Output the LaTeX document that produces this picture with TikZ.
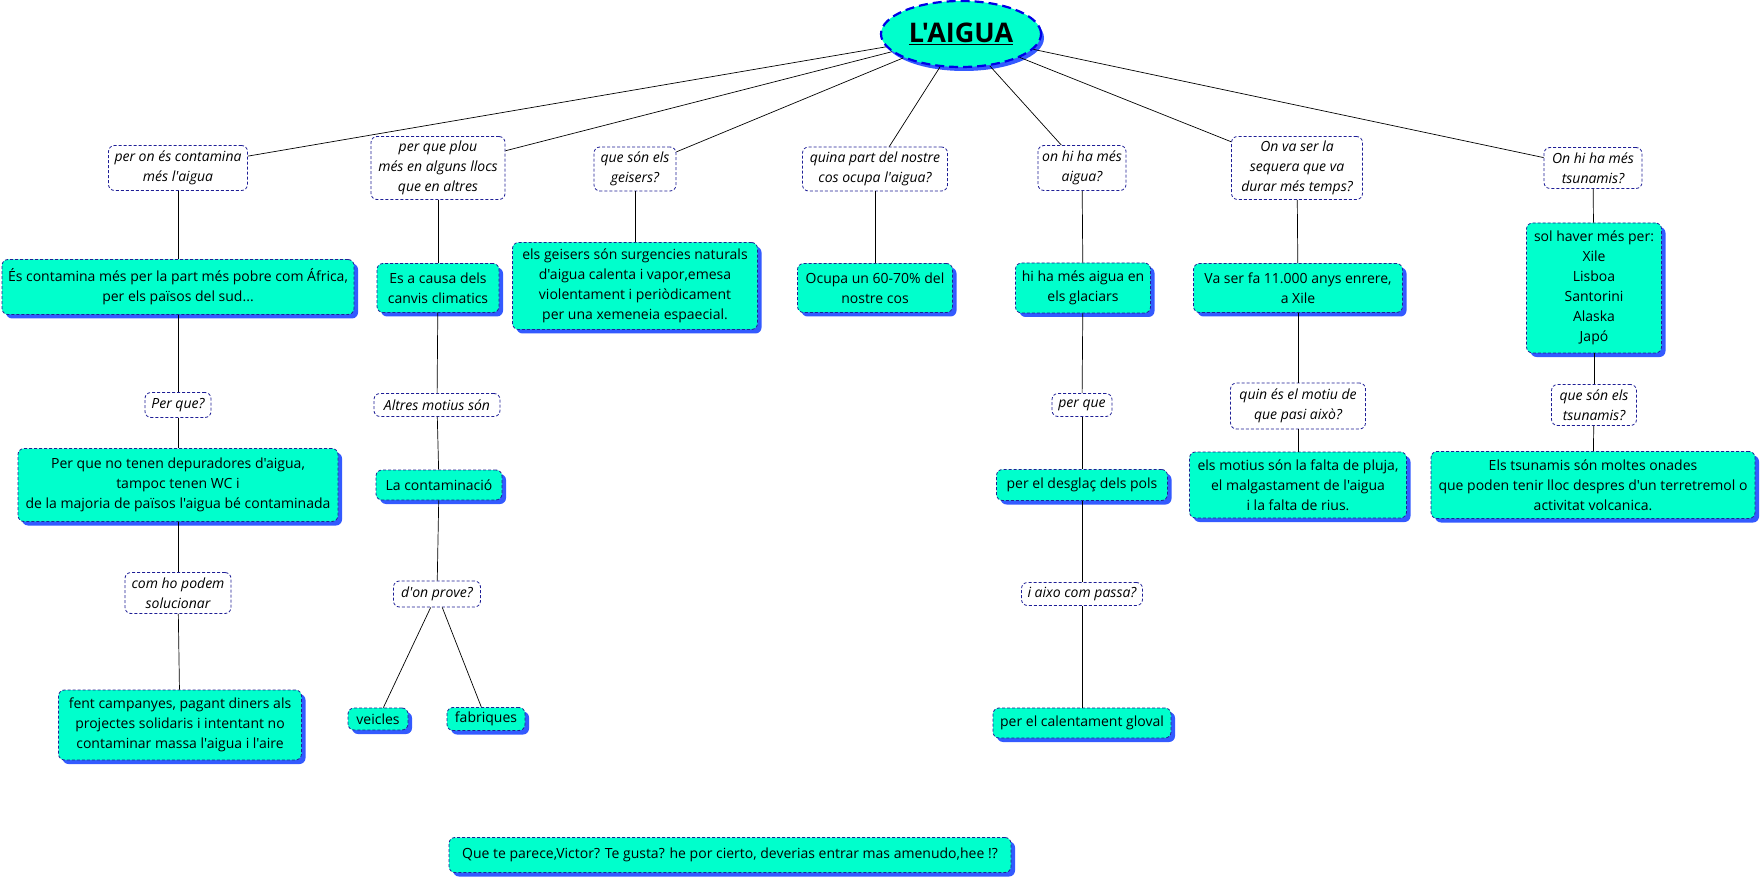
\documentclass[tikz,border=0pt]{standalone}
\usepackage{fontspec}
\setmainfont{Open Sans}[Ligatures=TeXOff]
\usetikzlibrary{shapes.geometric,shadows}
\definecolor{fillc}{RGB}{0,255,204}
\definecolor{bordc}{RGB}{30,30,150}
\definecolor{shadc}{RGB}{51,90,255}
\definecolor{titleb}{RGB}{0,0,230}
\tikzset{
  base/.style={rounded corners=6pt, draw=bordc, line width=0.8pt, dash pattern=on 3pt off 2pt, align=center, inner sep=1pt, font=\fontsize{14}{20}\selectfont},
  qbox/.style={base, fill=white, font=\fontsize{14}{20}\selectfont\itshape},
  abox/.style={base, fill=fillc, drop shadow={shadow xshift=4pt, shadow yshift=-4pt, fill=shadc, opacity=1}},
  link/.style={draw=black, line width=0.7pt},
  sz/.style 2 args={minimum width=#1pt, minimum height=#2pt}
}
\begin{document}
\begin{tikzpicture}[x=1pt,y=-1pt]
\useasboundingbox[fill=white] (0,0) rectangle (1762,877);

\node[ellipse, fill=fillc, draw=titleb, line width=2.2pt, dash pattern=on 9pt off 5pt, minimum width=160pt, minimum height=66pt, inner sep=0pt, drop shadow={shadow xshift=3pt, shadow yshift=-4pt, fill=shadc, opacity=1}, font=\fontsize{27}{30}\selectfont\bfseries] (root) at (961,34) {\underline{L'AIGUA}};

% level 1 questions
\node[qbox, sz={139}{45}] (q1) at (178,168) {per on és contamina\\més l'aigua};
\node[qbox, sz={134}{63}] (q2) at (438,168) {per que plou\\més en alguns llocs\\que en altres};
\node[qbox, sz={82}{44}] (q3) at (635,169) {que són els\\geisers?};
\node[qbox, sz={145}{44}] (q4) at (875,169) {quina part del nostre\\cos ocupa l'aigua?};
\node[qbox, sz={88}{45}] (q5) at (1082,168) {on hi ha més\\aigua?};
\node[qbox, sz={131}{63}] (q6) at (1297,168) {On va ser la\\sequera que va\\durar més temps?};
\node[qbox, sz={98}{41}] (q7) at (1593,168) {On hi ha més\\tsunamis?};

% level 1 answers
\node[abox, sz={352}{55}] (a1) at (178,287) {És contamina més per la part més pobre com África,\\per els països del sud...};
\node[abox, sz={122}{49}] (a2) at (438,288) {Es a causa dels\\canvis climatics};
\node[abox, sz={245}{87}] (a3) at (635,286) {els geisers són surgencies naturals\\d'aigua calenta i vapor,emesa\\violentament i periòdicament\\per una xemeneia espaecial.};
\node[abox, sz={155}{49}] (a4) at (875,288) {Ocupa un 60-70\% del\\nostre cos};
\node[abox, sz={135}{50}] (a5) at (1083,288) {hi ha més aigua en\\els glaciars};
\node[abox, sz={209}{49}] (a6) at (1298,288) {Va ser fa 11.000 anys enrere,\\a Xile};
\node[abox, sz={135}{130}] (a7) at (1594,288) {sol haver més per:\\Xile\\Lisboa\\Santorini\\Alaska\\Japó};

% column 1
\node[qbox, sz={66}{25}] (c1q) at (178,405) {Per que?};
\node[abox, sz={320}{73}] (c1a) at (178,485) {Per que no tenen depuradores d'aigua,\\tampoc tenen WC i\\de la majoria de països l'aigua bé contaminada};
\node[qbox, sz={106}{41}] (c1q2) at (178,593) {com ho podem\\solucionar};
\node[abox, sz={243}{70}] (c1a2) at (180,725) {fent campanyes, pagant diners als\\projectes solidaris i intentant no\\contaminar massa l'aigua i l'aire};

% column 2
\node[qbox, sz={126}{23}] (c2q) at (437,405) {Altres motius són};
\node[abox, sz={126}{30}] (c2a) at (439,485) {La contaminació};
\node[qbox, sz={87}{26}] (c2q2) at (437,594) {d'on prove?};
\node[abox, sz={60}{22}] (veh) at (378,719) {veicles};
\node[abox, sz={78}{23}] (fab) at (486,719) {fabriques};

% column 5
\node[qbox, sz={60}{23}] (c5q) at (1082,405) {per que};
\node[abox, sz={171}{31}] (c5a) at (1082,485) {per el desglaç dels pols};
\node[qbox, sz={121}{23}] (c5q2) at (1082,594) {i aixo com passa?};
\node[abox, sz={178}{30}] (c5a2) at (1082,723) {per el calentament gloval};

% column 6
\node[qbox, sz={135}{46}] (c6q) at (1298,406) {quin és el motiu de\\que pasi això?};
\node[abox, sz={217}{66}] (c6a) at (1298,485) {els motius són la falta de pluja,\\el malgastament de l'aigua\\i la falta de rius.};

% column 7
\node[qbox, sz={85}{41}] (c7q) at (1594,405) {que són els\\tsunamis?};
\node[abox, sz={324}{67}] (c7a) at (1593,485) {Els tsunamis són moltes onades\\que poden tenir lloc despres d'un terretremol o\\activitat volcanica.};

% comment
\node[abox, sz={562}{35}] (com) at (730,855) {Que te parece,Victor? Te gusta? he por cierto, deverias entrar mas amenudo,hee !?};

% connectors
\foreach \n in {q1,q2,q3,q4,q5,q6,q7} {\draw[link] (root) -- (\n);}
\draw[link] (q1) -- (a1);
\draw[link] (a1) -- (c1q);
\draw[link] (c1q) -- (c1a);
\draw[link] (c1a) -- (c1q2);
\draw[link] (c1q2) -- (c1a2);
\draw[link] (q2) -- (a2);
\draw[link] (a2) -- (c2q);
\draw[link] (c2q) -- (c2a);
\draw[link] (c2a) -- (c2q2);
\draw[link] (c2q2) -- (veh);
\draw[link] (c2q2) -- (fab);
\draw[link] (q3) -- (a3);
\draw[link] (q4) -- (a4);
\draw[link] (q5) -- (a5);
\draw[link] (a5) -- (c5q);
\draw[link] (c5q) -- (c5a);
\draw[link] (c5a) -- (c5q2);
\draw[link] (c5q2) -- (c5a2);
\draw[link] (q6) -- (a6);
\draw[link] (a6) -- (c6q);
\draw[link] (c6q) -- (c6a);
\draw[link] (q7) -- (a7);
\draw[link] (a7) -- (c7q);
\draw[link] (c7q) -- (c7a);
\end{tikzpicture}
\end{document}
